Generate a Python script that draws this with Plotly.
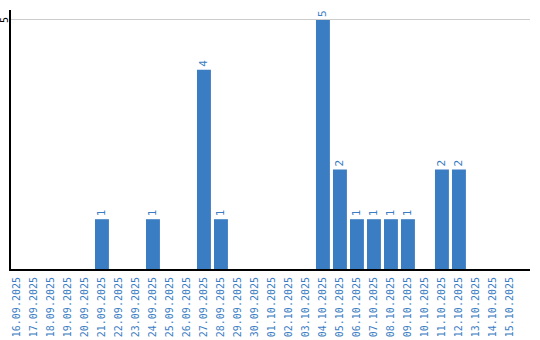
import plotly.graph_objects as go

dates = ["16.09.2025","17.09.2025","18.09.2025","19.09.2025","20.09.2025","21.09.2025",
         "22.09.2025","23.09.2025","24.09.2025","25.09.2025","26.09.2025","27.09.2025",
         "28.09.2025","29.09.2025","30.09.2025","01.10.2025","02.10.2025","03.10.2025",
         "04.10.2025","05.10.2025","06.10.2025","07.10.2025","08.10.2025","09.10.2025",
         "10.10.2025","11.10.2025","12.10.2025","13.10.2025","14.10.2025","15.10.2025"]
counts = [0,0,0,0,0,1, 0,0,1,0,0,4, 1,0,0,0,0,0, 5,2,1,1,1,1, 0,2,2,0,0,0]
labels = [str(v) if v else "" for v in counts]
y_tick = 5

BLUE = "#3b7dc3"
FONT = "DejaVu Sans Mono"
fig = go.Figure(go.Bar(
    x=dates, y=counts, text=labels, textposition="outside", textangle=-90,
    textfont=dict(color=BLUE, size=11, family=FONT),
    marker=dict(color=BLUE, line=dict(width=0)), width=0.82, cliponaxis=False,
))
fig.update_layout(
    width=540, height=340, margin=dict(l=11, r=10, t=10, b=71),
    paper_bgcolor="white", plot_bgcolor="white", showlegend=False,
    xaxis=dict(type="category", range=[-0.35, 30.18], tickangle=-90, automargin=False,
               tickfont=dict(color=BLUE, size=10, family=FONT),
               showline=True, linecolor="black", linewidth=2, showgrid=False,
               ticks="", ticklabelstandoff=2),
    yaxis=dict(range=[0, 5.2], tickvals=[y_tick], showticklabels=False, automargin=False,
               showline=True, linecolor="black", linewidth=2,
               gridcolor="#cccccc", gridwidth=1, zeroline=False, ticks=""),
    annotations=[dict(xref="paper", yref="y", x=0, y=y_tick, text=str(y_tick),
                      showarrow=False, textangle=-90, xanchor="center", yanchor="middle",
                      xshift=-6, font=dict(color="black", size=10, family=FONT))],
)
fig.write_html("out.html")
